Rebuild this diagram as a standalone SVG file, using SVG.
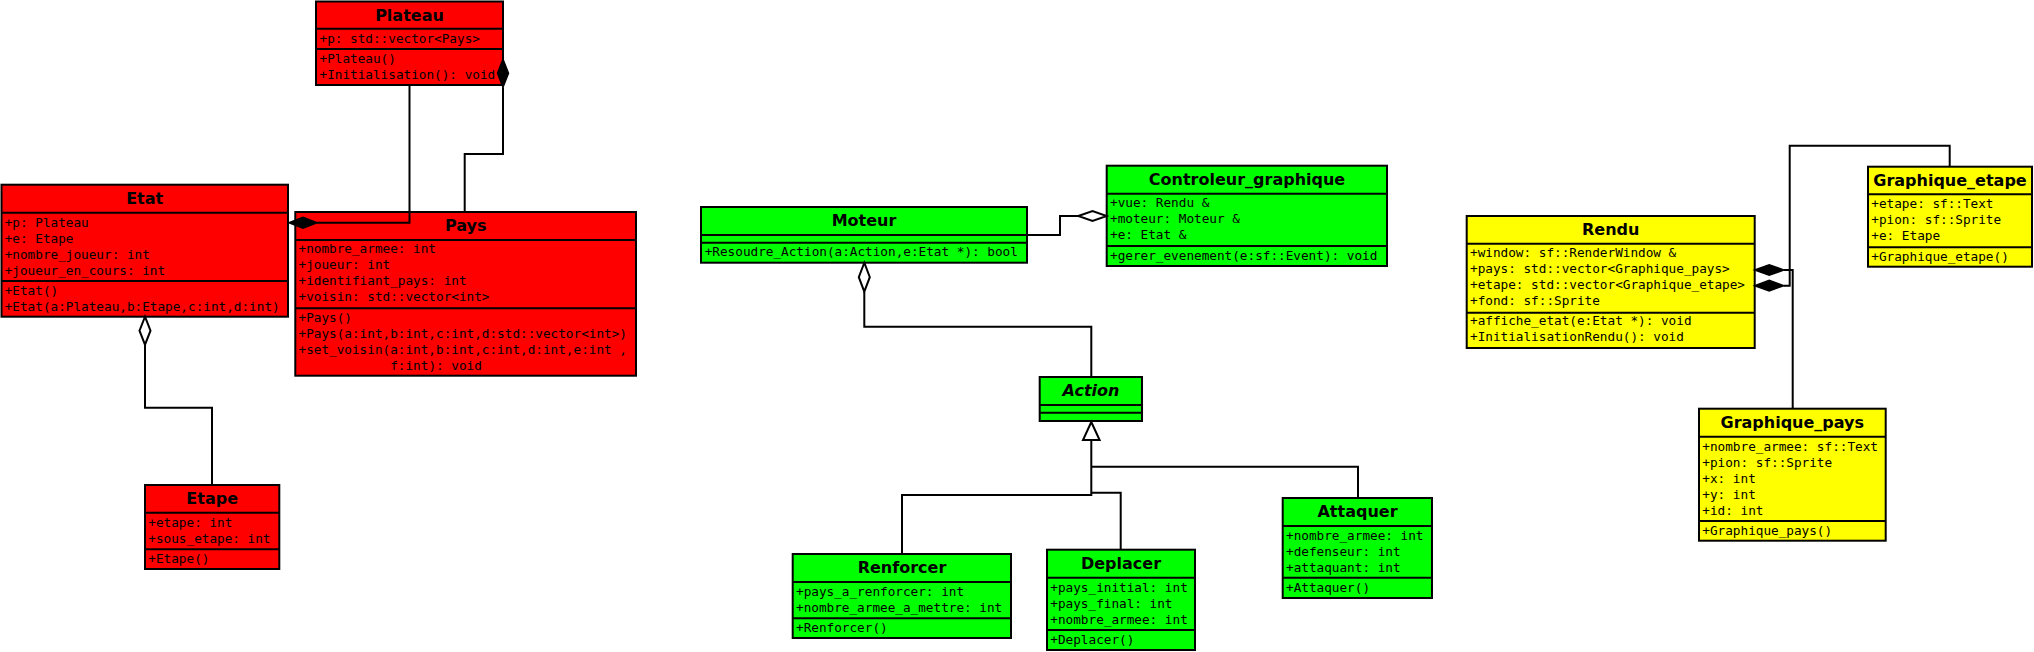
<svg xmlns="http://www.w3.org/2000/svg" width="2034" height="652" viewBox="0 0 2034 652">
<style>
.bx{stroke:#000;stroke-width:2}
.r{fill:#ff0000}.g{fill:#00ff00}.y{fill:#ffff00}
.sep{stroke:#000;stroke-width:2}
.t{font-family:"DejaVu Sans",sans-serif;font-weight:bold;font-size:16px;text-anchor:middle;fill:#000}
.ti{font-style:italic}
.m{font-family:"DejaVu Sans Mono",monospace;font-size:12.7px;fill:#000}
.c{fill:none;stroke:#000;stroke-width:2}
.fd{fill:#000;stroke:#000;stroke-width:1.5}
.hd{fill:#fff;stroke:#000;stroke-width:2}
</style>
<rect width="2034" height="652" fill="#fff"/>

<g id="Plateau">
  <rect class="bx r" x="316" y="1.5" width="187" height="83.5"/>
  <line class="sep" x1="316" y1="28.7" x2="503" y2="28.7"/>
  <line class="sep" x1="316" y1="49" x2="503" y2="49"/>
  <text class="t" x="409.5" y="20.5">Plateau</text>
  <text class="m" x="319.5" y="42.7">+p: std::vector&lt;Pays&gt;</text>
  <text class="m" x="319.5" y="62.7">+Plateau()</text>
  <text class="m" x="319.5" y="78.7">+Initialisation(): void</text>
</g>

<g id="Etat">
  <rect class="bx r" x="1.5" y="184.7" width="286.5" height="132"/>
  <line class="sep" x1="1.5" y1="212.7" x2="288" y2="212.7"/>
  <line class="sep" x1="1.5" y1="281" x2="288" y2="281"/>
  <text class="t" x="144.7" y="204">Etat</text>
  <text class="m" x="4.7" y="226.7">+p: Plateau</text>
  <text class="m" x="4.7" y="242.7">+e: Etape</text>
  <text class="m" x="4.7" y="258.7">+nombre_joueur: int</text>
  <text class="m" x="4.7" y="274.7">+joueur_en_cours: int</text>
  <text class="m" x="4.7" y="295">+Etat()</text>
  <text class="m" x="4.7" y="311">+Etat(a:Plateau,b:Etape,c:int,d:int)</text>
</g>

<g id="Pays">
  <rect class="bx r" x="295.3" y="212" width="340.7" height="163.7"/>
  <line class="sep" x1="295.3" y1="240" x2="636" y2="240"/>
  <line class="sep" x1="295.3" y1="308.3" x2="636" y2="308.3"/>
  <text class="t" x="465.7" y="231">Pays</text>
  <text class="m" x="298.5" y="253.3">+nombre_armee: int</text>
  <text class="m" x="298.5" y="269.3">+joueur: int</text>
  <text class="m" x="298.5" y="285.3">+identifiant_pays: int</text>
  <text class="m" x="298.5" y="301.3">+voisin: std::vector&lt;int&gt;</text>
  <text class="m" x="298.5" y="321.7">+Pays()</text>
  <text class="m" x="298.5" y="337.7">+Pays(a:int,b:int,c:int,d:std::vector&lt;int&gt;)</text>
  <text class="m" x="298.5" y="353.7">+set_voisin(a:int,b:int,c:int,d:int,e:int ,</text>
  <text class="m" x="390.2" y="369.7">f:int): void</text>
</g>

<g id="Etape">
  <rect class="bx r" x="145" y="485" width="134.3" height="84"/>
  <line class="sep" x1="145" y1="512.7" x2="279.3" y2="512.7"/>
  <line class="sep" x1="145" y1="549.3" x2="279.3" y2="549.3"/>
  <text class="t" x="212.2" y="503.5">Etape</text>
  <text class="m" x="148.3" y="526.7">+etape: int</text>
  <text class="m" x="148.3" y="542.7">+sous_etape: int</text>
  <text class="m" x="148.3" y="563.3">+Etape()</text>
</g>

<g id="Moteur">
  <rect class="bx g" x="701" y="207" width="326" height="55.7"/>
  <line class="sep" x1="701" y1="235" x2="1027" y2="235"/>
  <line class="sep" x1="701" y1="242.7" x2="1027" y2="242.7"/>
  <text class="t" x="864" y="226">Moteur</text>
  <text class="m" x="704.7" y="256.3">+Resoudre_Action(a:Action,e:Etat *): bool</text>
</g>

<g id="Controleur_graphique">
  <rect class="bx g" x="1106.7" y="165.7" width="280.3" height="100.3"/>
  <line class="sep" x1="1106.7" y1="193.7" x2="1387" y2="193.7"/>
  <line class="sep" x1="1106.7" y1="246" x2="1387" y2="246"/>
  <text class="t" x="1247" y="184.5">Controleur_graphique</text>
  <text class="m" x="1110" y="206.7">+vue: Rendu &amp;</text>
  <text class="m" x="1110" y="222.7">+moteur: Moteur &amp;</text>
  <text class="m" x="1110" y="238.7">+e: Etat &amp;</text>
  <text class="m" x="1110" y="259.5">+gerer_evenement(e:sf::Event): void</text>
</g>

<g id="Action">
  <rect class="bx g" x="1039.7" y="377" width="102.3" height="44"/>
  <line class="sep" x1="1039.7" y1="405" x2="1142" y2="405"/>
  <line class="sep" x1="1039.7" y1="412.7" x2="1142" y2="412.7"/>
  <text class="t ti" x="1091" y="396">Action</text>
</g>

<g id="Renforcer">
  <rect class="bx g" x="792.7" y="554" width="218.3" height="84"/>
  <line class="sep" x1="792.7" y1="582" x2="1011" y2="582"/>
  <line class="sep" x1="792.7" y1="618.3" x2="1011" y2="618.3"/>
  <text class="t" x="902" y="572.5">Renforcer</text>
  <text class="m" x="796" y="595.7">+pays_a_renforcer: int</text>
  <text class="m" x="796" y="611.7">+nombre_armee_a_mettre: int</text>
  <text class="m" x="796" y="632.3">+Renforcer()</text>
</g>

<g id="Deplacer">
  <rect class="bx g" x="1047" y="549.7" width="148" height="100.3"/>
  <line class="sep" x1="1047" y1="577.7" x2="1195" y2="577.7"/>
  <line class="sep" x1="1047" y1="630" x2="1195" y2="630"/>
  <text class="t" x="1121" y="568.5">Deplacer</text>
  <text class="m" x="1050.3" y="591.7">+pays_initial: int</text>
  <text class="m" x="1050.3" y="607.7">+pays_final: int</text>
  <text class="m" x="1050.3" y="623.7">+nombre_armee: int</text>
  <text class="m" x="1050.3" y="644">+Deplacer()</text>
</g>

<g id="Attaquer">
  <rect class="bx g" x="1282.7" y="498" width="149.3" height="100"/>
  <line class="sep" x1="1282.7" y1="526" x2="1432" y2="526"/>
  <line class="sep" x1="1282.7" y1="577.7" x2="1432" y2="577.7"/>
  <text class="t" x="1357.5" y="517">Attaquer</text>
  <text class="m" x="1286" y="540">+nombre_armee: int</text>
  <text class="m" x="1286" y="556">+defenseur: int</text>
  <text class="m" x="1286" y="572">+attaquant: int</text>
  <text class="m" x="1286" y="591.7">+Attaquer()</text>
</g>

<g id="Rendu">
  <rect class="bx y" x="1466.7" y="216" width="288" height="132"/>
  <line class="sep" x1="1466.7" y1="243.7" x2="1754.7" y2="243.7"/>
  <line class="sep" x1="1466.7" y1="312.7" x2="1754.7" y2="312.7"/>
  <text class="t" x="1610.7" y="235">Rendu</text>
  <text class="m" x="1470" y="257.3">+window: sf::RenderWindow &amp;</text>
  <text class="m" x="1470" y="273.3">+pays: std::vector&lt;Graphique_pays&gt;</text>
  <text class="m" x="1470" y="289.3">+etape: std::vector&lt;Graphique_etape&gt;</text>
  <text class="m" x="1470" y="305.3">+fond: sf::Sprite</text>
  <text class="m" x="1470" y="325">+affiche_etat(e:Etat *): void</text>
  <text class="m" x="1470" y="341">+InitialisationRendu(): void</text>
</g>

<g id="Graphique_etape">
  <rect class="bx y" x="1868" y="166.7" width="164" height="100"/>
  <line class="sep" x1="1868" y1="194.3" x2="2032" y2="194.3"/>
  <line class="sep" x1="1868" y1="247.3" x2="2032" y2="247.3"/>
  <text class="t" x="1950" y="186">Graphique_etape</text>
  <text class="m" x="1871.3" y="208.3">+etape: sf::Text</text>
  <text class="m" x="1871.3" y="224.3">+pion: sf::Sprite</text>
  <text class="m" x="1871.3" y="240.3">+e: Etape</text>
  <text class="m" x="1871.3" y="260.7">+Graphique_etape()</text>
</g>

<g id="Graphique_pays">
  <rect class="bx y" x="1699" y="408.7" width="186.7" height="132"/>
  <line class="sep" x1="1699" y1="436.7" x2="1885.7" y2="436.7"/>
  <line class="sep" x1="1699" y1="521" x2="1885.7" y2="521"/>
  <text class="t" x="1792.3" y="427.5">Graphique_pays</text>
  <text class="m" x="1702.3" y="450.7">+nombre_armee: sf::Text</text>
  <text class="m" x="1702.3" y="466.7">+pion: sf::Sprite</text>
  <text class="m" x="1702.3" y="482.7">+x: int</text>
  <text class="m" x="1702.3" y="498.7">+y: int</text>
  <text class="m" x="1702.3" y="514.7">+id: int</text>
  <text class="m" x="1702.3" y="535">+Graphique_pays()</text>
</g>

<g id="connectors">
  <path class="c" d="M409.5,85 V222.7 H317"/>
  <polygon class="fd" points="289,222.7 303,217.2 317,222.7 303,228.2"/>
  <path class="c" d="M464.7,212 V154 H503 V87.3"/>
  <polygon class="fd" points="503,59.3 508.5,73.3 503,87.3 497.5,73.3"/>
  <path class="c" d="M145,344.7 V407.7 H212 V485"/>
  <polygon class="hd" points="145,316.7 150.5,330.7 145,344.7 139.5,330.7"/>
  <path class="c" d="M864.3,291.7 V326.7 H1091.3 V377"/>
  <polygon class="hd" points="864.3,262.7 869.8,277.2 864.3,291.7 858.8,277.2"/>
  <path class="c" d="M1027,235 H1060 V216 H1078.3"/>
  <polygon class="hd" points="1078.3,216 1092.5,211 1106.7,216 1092.5,221"/>
  <path class="c" d="M1091.3,440 V495 H902 V554"/>
  <path class="c" d="M1091.3,492.7 H1120.7 V549.7"/>
  <path class="c" d="M1091.3,466.7 H1358 V498"/>
  <polygon class="hd" points="1091.3,422 1099.6,440 1083,440"/>
  <path class="c" d="M1783.7,270 H1792.7 V408.7"/>
  <polygon class="fd" points="1754.7,270 1769.2,264.7 1783.7,270 1769.2,275.3"/>
  <path class="c" d="M1783.7,285.7 H1789.7 V145.7 H1949.7 V166.7"/>
  <polygon class="fd" points="1754.7,285.7 1769.2,280.4 1783.7,285.7 1769.2,291"/>
</g>
</svg>
